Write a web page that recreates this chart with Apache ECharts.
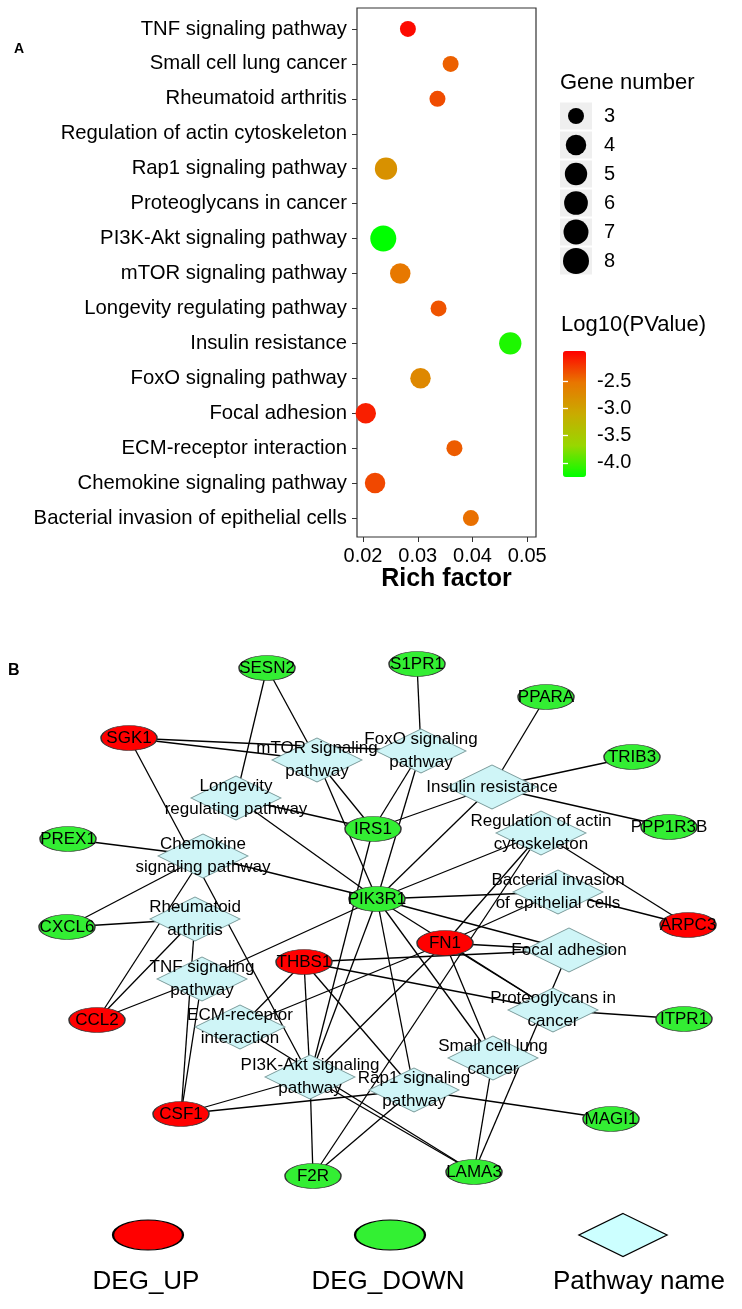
<!DOCTYPE html>
<html><head><meta charset="utf-8">
<script src="https://cdn.jsdelivr.net/npm/echarts@6/dist/echarts.min.js"></script>
<style>html,body{margin:0;padding:0;background:#fff}#c{width:742px;height:1309px}</style>
</head><body><div id="c"></div>
<script>
// ---------- Panel A data ----------
const pathways = ['TNF signaling pathway','Small cell lung cancer','Rheumatoid arthritis','Regulation of actin cytoskeleton','Rap1 signaling pathway','Proteoglycans in cancer','PI3K-Akt signaling pathway','mTOR signaling pathway','Longevity regulating pathway','Insulin resistance','FoxO signaling pathway','Focal adhesion','ECM-receptor interaction','Chemokine signaling pathway','Bacterial invasion of epithelial cells'];
const richFactor = [0.0282,0.0360,0.0336,null,0.0242,null,0.0237,0.0268,0.0338,0.0469,0.0305,0.0205,0.0367,0.0222,0.0397];
const geneNumber = [3,3,3,null,5,null,8,4,3,5,4,4,3,4,3];
const log10P = [-2.0,-2.42,-2.32,null,-2.82,null,-4.26,-2.55,-2.36,-4.15,-2.72,-2.1,-2.4,-2.3,-2.5];
const richTicks = [0.02,0.03,0.04,0.05];
const colorTicks = [-4.0,-3.5,-3.0,-2.5];
const sizeLegend = ['3','4','5','6','7','8'];

// ---------- Panel B data ----------
const geneNames = ['SESN2','S1PR1','PPARA','SGK1','TRIB3','PPP1R3B','PREX1','IRS1','PIK3R1','CXCL6','ARPC3','FN1','THBS1','CCL2','ITPR1','CSF1','MAGI1','F2R','LAMA3'];
const geneRegulation = ['down','down','down','up','down','down','down','down','down','down','up','up','up','up','down','up','down','down','down'];
const geneX = [267,417,546,129,632,669,68,373,377,67,688,445,304,97,684,181,611,313,474];
const geneY = [668,664,697,738,757,827,839,829,899,927,925,943,962,1020,1019,1114,1119,1176,1172];
const pathwayLabels = ['TNF signaling\npathway','Small cell lung\ncancer','Rheumatoid\narthritis','Regulation of actin\ncytoskeleton','Rap1 signaling\npathway','Proteoglycans in\ncancer','PI3K-Akt signaling\npathway','mTOR signaling\npathway','Longevity\nregulating pathway','Insulin resistance','FoxO signaling\npathway','Focal adhesion','ECM-receptor\ninteraction','Chemokine\nsignaling pathway','Bacterial invasion\nof epithelial cells'];
const pathwayX = [202,493,195,541,414,553,310,317,236,492,421,569,240,203,558];
const pathwayY = [979,1058,919,833,1090,1010,1077,760,798,787,751,950,1027,856,892];
const links = [
 ['TNF signaling pathway','CCL2'],['TNF signaling pathway','CSF1'],['TNF signaling pathway','PIK3R1'],
 ['Small cell lung cancer','PIK3R1'],['Small cell lung cancer','FN1'],['Small cell lung cancer','LAMA3'],
 ['Rheumatoid arthritis','CCL2'],['Rheumatoid arthritis','CSF1'],['Rheumatoid arthritis','CXCL6'],
 ['Regulation of actin cytoskeleton','PIK3R1'],['Regulation of actin cytoskeleton','FN1'],['Regulation of actin cytoskeleton','F2R'],['Regulation of actin cytoskeleton','ARPC3'],
 ['Rap1 signaling pathway','PIK3R1'],['Rap1 signaling pathway','THBS1'],['Rap1 signaling pathway','CSF1'],['Rap1 signaling pathway','F2R'],['Rap1 signaling pathway','MAGI1'],
 ['Proteoglycans in cancer','FN1'],['Proteoglycans in cancer','THBS1'],['Proteoglycans in cancer','PIK3R1'],['Proteoglycans in cancer','ITPR1'],
 ['PI3K-Akt signaling pathway','PIK3R1'],['PI3K-Akt signaling pathway','FN1'],['PI3K-Akt signaling pathway','THBS1'],['PI3K-Akt signaling pathway','LAMA3'],['PI3K-Akt signaling pathway','CSF1'],['PI3K-Akt signaling pathway','F2R'],['PI3K-Akt signaling pathway','SGK1'],['PI3K-Akt signaling pathway','IRS1'],
 ['mTOR signaling pathway','SESN2'],['mTOR signaling pathway','SGK1'],['mTOR signaling pathway','IRS1'],['mTOR signaling pathway','PIK3R1'],
 ['Longevity regulating pathway','SESN2'],['Longevity regulating pathway','IRS1'],['Longevity regulating pathway','PIK3R1'],
 ['Insulin resistance','PPARA'],['Insulin resistance','TRIB3'],['Insulin resistance','PPP1R3B'],['Insulin resistance','IRS1'],['Insulin resistance','PIK3R1'],
 ['FoxO signaling pathway','S1PR1'],['FoxO signaling pathway','SGK1'],['FoxO signaling pathway','IRS1'],['FoxO signaling pathway','PIK3R1'],
 ['Focal adhesion','FN1'],['Focal adhesion','THBS1'],['Focal adhesion','PIK3R1'],['Focal adhesion','LAMA3'],
 ['ECM-receptor interaction','FN1'],['ECM-receptor interaction','THBS1'],['ECM-receptor interaction','LAMA3'],
 ['Chemokine signaling pathway','CCL2'],['Chemokine signaling pathway','CXCL6'],['Chemokine signaling pathway','PREX1'],['Chemokine signaling pathway','PIK3R1'],
 ['Bacterial invasion of epithelial cells','ARPC3'],['Bacterial invasion of epithelial cells','FN1'],['Bacterial invasion of epithelial cells','PIK3R1']
];
const legendNames = ['DEG_UP','DEG_DOWN','Pathway name'];
const legendX = [148,390,623];
const legendY = [1235,1235,1235];

// ---------- styles ----------
const F = '"Liberation Sans", Arial, Helvetica, sans-serif';
const ELLIPSE = 'path://M0,25A50,25,0,1,1,100,25A50,25,0,1,1,0,25Z';
const RED = '#FF0000', GREEN = '#33EE33', CYAN = '#CFF5F7';
const sizeOf = n => 14 + 2 * (1 + 5 * Math.sqrt((n - 3) / 5));

const bubbleData = pathways.map((p, i) => richFactor[i] == null ? null : [richFactor[i], p, log10P[i], geneNumber[i]]).filter(Boolean);

const nodes = [];
pathways.forEach((p, i) => nodes.push({
  name: p, value: [pathwayX[i], pathwayY[i]], symbol: 'diamond', symbolSize: [90, 44],
  itemStyle: {color: CYAN, borderColor: '#7A9A9A', borderWidth: 1},
  label: {formatter: pathwayLabels[i]}
}));
geneNames.forEach((g, i) => nodes.push({
  name: g, value: [geneX[i], geneY[i]], symbol: ELLIPSE, symbolSize: [56, 25],
  itemStyle: {color: geneRegulation[i] === 'up' ? RED : GREEN, borderColor: '#333', borderWidth: 1},
  label: {formatter: g}
}));

const legendData = legendNames.map((n, i) => ({
  name: n, value: [legendX[i], legendY[i]],
  symbol: i === 2 ? 'diamond' : ELLIPSE,
  symbolSize: i === 2 ? [88, 43] : [70, 30],
  itemStyle: {color: i === 0 ? RED : (i === 1 ? '#33F033' : '#CCFFFF'), borderColor: '#000', borderWidth: 1.5, opacity: 1},
  label: {show: true, formatter: n, position: 'inside', offset: [i === 2 ? 16 : -2, 47], fontSize: 26, color: '#000', fontFamily: F}
}));

const chart = echarts.init(document.getElementById('c'));
chart.setOption({
  animation: false,
  backgroundColor: '#fff',
  title: [
    {text: 'A', left: 14, top: 42, padding: 0, textStyle: {fontSize: 14, lineHeight: 14, fontWeight: 'bold', fontFamily: F, color: '#000'}},
    {text: 'B', left: 8, top: 663, padding: 0, textStyle: {fontSize: 16, lineHeight: 16, fontWeight: 'bold', fontFamily: F, color: '#000'}},
    {text: 'Gene number', left: 560, top: 72, padding: 0, textStyle: {fontSize: 22, lineHeight: 22, fontWeight: 'normal', fontFamily: F, color: '#000'}},
    {text: 'Log10(PValue)', left: 561, top: 314, padding: 0, textStyle: {fontSize: 22, lineHeight: 22, fontWeight: 'normal', fontFamily: F, color: '#000'}}
  ],
  grid: [
    {left: 357, top: 11.5, width: 179, height: 524},
    {left: 560, top: 101.5, width: 32, height: 174},
    {left: 563, top: 351, width: 23, height: 126},
    {left: 0, top: 0, width: 742, height: 1309},
    {left: 357, top: 8, width: 179, height: 529, show: true, borderColor: '#333', borderWidth: 1.2, backgroundColor: 'rgba(0,0,0,0)'}
  ],
  xAxis: [
    {gridIndex: 0, type: 'value', min: 0.0189, max: 0.0516, offset: 1.5, splitLine: {show: false}, axisLine: {show: false},
     axisTick: {show: true, length: 5, lineStyle: {color: '#333'}, customValues: richTicks},
     axisLabel: {customValues: richTicks, fontSize: 20, color: '#000', margin: 9, fontFamily: F, formatter: v => v.toFixed(2)},
     name: 'Rich factor', nameLocation: 'middle', nameGap: 30,
     nameTextStyle: {fontSize: 25, fontWeight: 'bold', color: '#000', fontFamily: F}},
    {gridIndex: 1, type: 'category', data: ['k'], show: false},
    {gridIndex: 2, type: 'value', min: 0, max: 1, show: false},
    {gridIndex: 3, type: 'value', min: 0, max: 742, show: false},
    {gridIndex: 4, type: 'value', min: 0, max: 1, show: false}
  ],
  yAxis: [
    {gridIndex: 0, type: 'category', data: pathways, inverse: true, axisLine: {show: false},
     axisTick: {show: true, length: 5, alignWithLabel: true, interval: 0, lineStyle: {color: '#333'}},
     axisLabel: {fontSize: 20.3, color: '#000', margin: 10, fontFamily: F, interval: 0}, splitLine: {show: false}},
    {gridIndex: 1, type: 'category', data: sizeLegend, inverse: true, position: 'right', axisLine: {show: false}, axisTick: {show: false},
     axisLabel: {fontSize: 20, color: '#000', margin: 12, fontFamily: F}},
    {gridIndex: 2, type: 'value', min: -4.26, max: -1.95, position: 'right', z: 10, axisLine: {show: false}, splitLine: {show: false},
     axisTick: {inside: true, length: 5, lineStyle: {color: '#fff', width: 1.3}, customValues: colorTicks},
     axisLabel: {customValues: colorTicks, formatter: v => v.toFixed(1), fontSize: 20, color: '#000', margin: 11, fontFamily: F}},
    {gridIndex: 2, type: 'value', min: -4.26, max: -1.95, position: 'left', z: 10, axisLine: {show: false}, splitLine: {show: false},
     axisTick: {inside: true, length: 5, lineStyle: {color: '#fff', width: 1.3}, customValues: colorTicks},
     axisLabel: {show: false}},
    {gridIndex: 3, type: 'value', min: 0, max: 1309, inverse: true, show: false},
    {gridIndex: 4, type: 'value', min: 0, max: 1, show: false}
  ],
  visualMap: [{
    type: 'continuous', seriesIndex: 0, dimension: 2, min: -4.26, max: -1.95,
    inRange: {color: ['#00FF00', '#98D700', '#C9AB00', '#E87600', '#FF0000']},
    left: 563, top: 351, itemWidth: 23, itemHeight: 126, calculable: false, padding: 0,
    orient: 'vertical', hoverLink: false, showLabel: false
  }],
  series: [
    {type: 'scatter', xAxisIndex: 0, yAxisIndex: 0, data: bubbleData, symbolSize: d => sizeOf(d[3]), itemStyle: {opacity: 1}, silent: true, z: 3},
    {type: 'scatter', xAxisIndex: 1, yAxisIndex: 1, data: sizeLegend.map(s => ['k', s]), symbol: 'rect', symbolSize: [32, 27],
     itemStyle: {color: '#EFEFEF', opacity: 1}, silent: true, z: 1},
    {type: 'scatter', xAxisIndex: 1, yAxisIndex: 1, data: sizeLegend.map(s => ['k', s, +s]), symbolSize: d => sizeOf(d[2]),
     itemStyle: {color: '#000', opacity: 1}, silent: true, z: 2},
    {type: 'scatter', xAxisIndex: 2, yAxisIndex: 2, data: [], silent: true},
    {type: 'graph', coordinateSystem: 'cartesian2d', xAxisIndex: 3, yAxisIndex: 4, layout: 'none', silent: true,
     data: nodes, links: links.map(l => ({source: l[0], target: l[1]})),
     lineStyle: {color: '#000', width: 1.3, opacity: 1, curveness: 0},
     itemStyle: {opacity: 1},
     label: {show: true, position: 'inside', fontSize: 17, lineHeight: 23, color: '#000', fontFamily: F},
     emphasis: {disabled: true}},
    {type: 'scatter', xAxisIndex: 3, yAxisIndex: 4, data: legendData, itemStyle: {opacity: 1}, silent: true}
  ]
});
</script></body></html>
